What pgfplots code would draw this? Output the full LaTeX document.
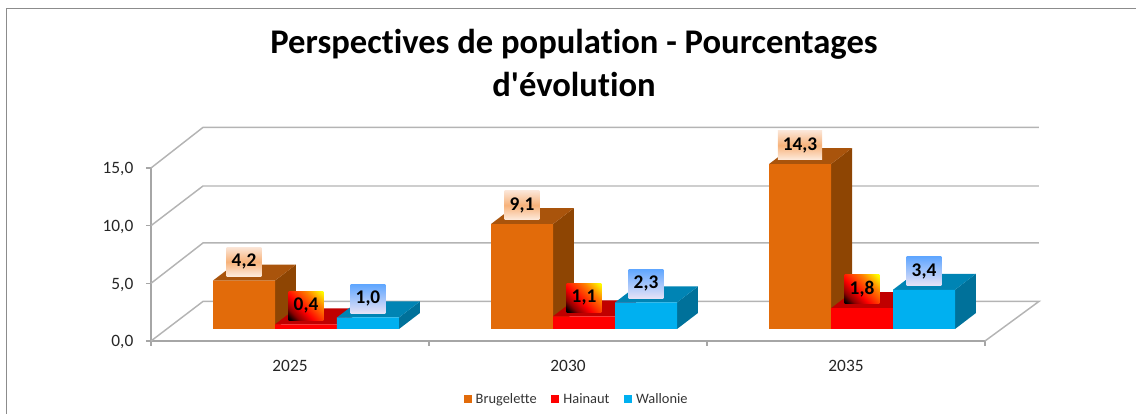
\documentclass[border=0pt]{standalone}
\usepackage{fontspec}
\setmainfont{Carlito}[Ligatures=NoCommon]
\newfontfamily\titre{Carlito}[Ligatures=NoCommon]
\usepackage{pgfplots}
\pgfplotsset{compat=1.18}
\usetikzlibrary{shadings}
\definecolor{Wall}{HTML}{B4B4B4}
\definecolor{Axe}{HTML}{A6A6A6}
\definecolor{Cadre}{HTML}{8C8C8C}
\definecolor{OrFace}{HTML}{E26B0A}
\definecolor{OrTop}{HTML}{A9540C}
\definecolor{OrSide}{HTML}{8E4503}
\definecolor{RgFace}{HTML}{FF0000}
\definecolor{RgTop}{HTML}{C00000}
\definecolor{BlFace}{HTML}{00B0F0}
\definecolor{BlTop}{HTML}{0084B4}
\definecolor{BlSide}{HTML}{00719A}
\definecolor{LabOrA}{HTML}{FBE5D6}
\definecolor{LabOrB}{HTML}{F7B27A}
\definecolor{LabOrC}{HTML}{FDEBDD}
\definecolor{LabBlA}{HTML}{5FA6FF}
\definecolor{LabBlB}{HTML}{E6E2F6}
\pgfdeclareverticalshading{feu}{100bp}{color(0bp)=(black); color(17bp)=(black);
  color(27bp)=(red!55!black); color(42bp)=(red); color(66bp)=(orange); color(84bp)=(yellow); color(100bp)=(yellow)}
% depth of the 3D boxes: 21 px across, 16 px up
\newcommand{\prism}[4]{%
  \pgfmathsetmacro{\xr}{#1+0.223}%
  \pgfmathsetmacro{\xa}{#1+0.0755}%
  \pgfmathsetmacro{\xb}{#1+0.223+0.0755}%
  \pgfmathsetmacro{\vt}{#2+1.39}%
  \addplot[fill=#4,draw=none,forget plot] coordinates {(\xr,0) (\xb,1.39) (\xb,\vt) (\xr,#2)} --cycle;
  \addplot[fill=#3,draw=none,forget plot] coordinates {(#1,#2) (\xr,#2) (\xb,\vt) (\xa,\vt)} --cycle;
}
\pgfplotsset{
  barres/.style={ybar,bar width=46.5pt,bar shift=0pt,draw=none,
    nodes near coords={\pgfmathprintnumber[fixed,fixed zerofill,precision=1,use comma,assume math mode=true]{\pgfplotspointmeta}},
    every node near coord/.append style={font=\fontsize{14.5}{15}\selectfont\bfseries,text=black,
      anchor=south,yshift=3pt,inner xsep=3.75pt,inner ysep=0pt,minimum height=21.75pt,minimum width=25.5pt}},
  carre/.style={legend image code/.code={\fill[#1] (0pt,-3pt) rectangle (6pt,3pt);}},
}
\begin{document}
\begin{tikzpicture}[x=0.75pt,y=0.75pt]
\path[use as bounding box] (0,0) rectangle (1136,414);
\draw[Cadre,line width=1pt] (6.5,0) -- (6.5,405.5) -- (1136,405.5);
\node[align=center,font=\titre\fontsize{25.95}{32}\selectfont\bfseries,text=black] at (574,351)
  {Perspectives de population - Pourcentages\\d'évolution};

\begin{axis}[
  at={(113.25pt,54.75pt)},anchor=south west,
  x=208.5pt,y=8.65pt,
  xmin=-0.5,xmax=2.5,ymin=0,ymax=15,
  clip=false,
  axis lines=left,
  axis line style={-,color=Axe,line width=0.9pt},
  xtick={0,1,2},xticklabels={2025,2030,2035},
  minor xtick={-0.5,0.5,1.5,2.5},
  ytick={0,5,10,15},
  yticklabel style={xshift=-6pt,yshift=-1pt,/pgf/number format/.cd,fixed,fixed zerofill,precision=1,use comma,assume math mode=true},
  tick label style={font=\fontsize{13}{15}\selectfont,text=black!85},
  xticklabel style={yshift=-7pt},
  major tick length=3.75pt,minor tick length=3.75pt,
  tick align=outside,
  xtick style={draw=none},
  minor x tick style={draw=Axe,line width=0.8pt},
  ytick style={draw=Axe,line width=0.8pt},
]
% walls and floor
\addplot[Wall,line width=1.1pt,mark=none] coordinates {(-0.5,0) (-0.313,3.43) (2.694,3.43) (2.5,0)};
\addplot[Wall,line width=1.1pt,mark=none] coordinates {(-0.5,5) (-0.313,8.5) (2.694,8.5)};
\addplot[Wall,line width=1.1pt,mark=none] coordinates {(-0.5,10) (-0.313,13.44) (2.694,13.44)};
\addplot[Wall,line width=1.1pt,mark=none] coordinates {(-0.5,15) (-0.313,18.52) (2.694,18.52)};
\end{axis}

% boxes stand 16 px right and 12 px up from the front edge
\begin{axis}[
  at={(125.25pt,63.75pt)},anchor=south west,
  x=208.5pt,y=8.65pt,
  xmin=-0.5,xmax=2.5,ymin=0,ymax=15,
  clip=false,hide axis,
  legend style={at={(0.4916,-0.405)},anchor=center,draw=none,fill=none,
    font=\fontsize{10.8}{12}\selectfont,text=black!80,legend columns=3,
    /tikz/every even column/.append style={column sep=9pt},
    /tikz/every odd column/.append style={column sep=1pt}},
]
\prism{-0.3345}{4.2}{OrTop}{OrSide}
\prism{0.6655}{9.1}{OrTop}{OrSide}
\prism{1.6655}{14.3}{OrTop}{OrSide}
\addplot[barres,fill=OrFace,carre=OrFace,
  every node near coord/.append style={top color=LabOrA,bottom color=LabOrC,middle color=LabOrB}]
  coordinates {(-0.223,4.2) (0.777,9.1) (1.777,14.3)};
\addlegendentry{Brugelette}

\prism{-0.1115}{0.4}{RgTop}{RgTop}
\prism{0.8885}{1.1}{RgTop}{RgTop}
\prism{1.8885}{1.8}{RgTop}{RgTop}
\addplot[barres,fill=RgFace,carre=RgFace,
  every node near coord/.append style={shade,shading=feu,shading angle=-45}]
  coordinates {(0,0.4) (1,1.1) (2,1.8)};
\addlegendentry{Hainaut}

\prism{0.1115}{1.0}{BlTop}{BlSide}
\prism{1.1115}{2.3}{BlTop}{BlSide}
\prism{2.1115}{3.4}{BlTop}{BlSide}
\addplot[barres,fill=BlFace,carre=BlFace,
  every node near coord/.append style={top color=LabBlA,bottom color=LabBlB}]
  coordinates {(0.223,1.0) (1.223,2.3) (2.223,3.4)};
\addlegendentry{Wallonie}
\end{axis}
\end{tikzpicture}
\end{document}
